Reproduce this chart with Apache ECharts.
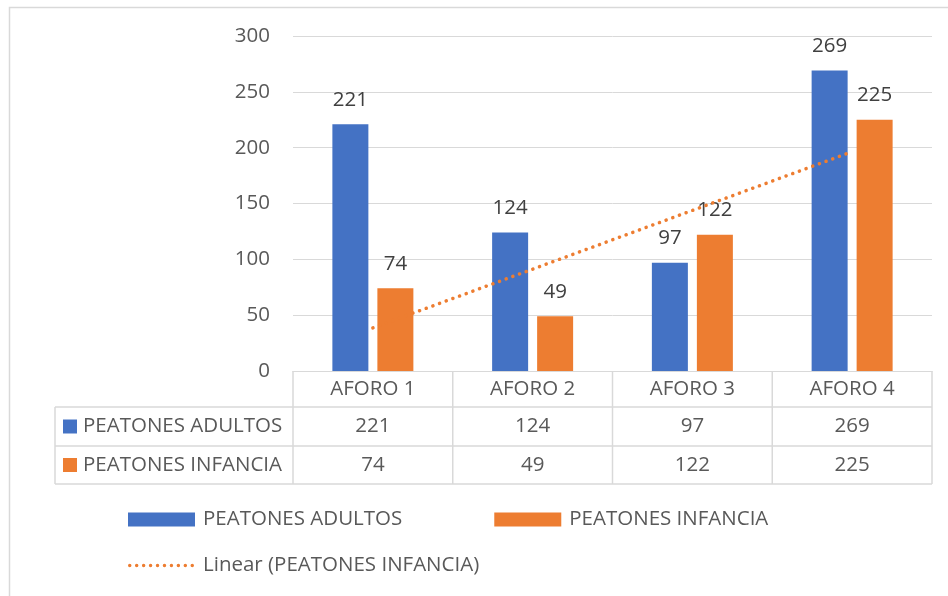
<!DOCTYPE html>
<html><head><meta charset="utf-8">
<script src="https://cdn.jsdelivr.net/npm/echarts@6/dist/echarts.min.js"></script>
<style>html,body{margin:0;padding:0;background:#fff}#c{width:948px;height:596px}</style>
</head><body><div id="c"></div>
<script>
const categories = ['AFORO 1', 'AFORO 2', 'AFORO 3', 'AFORO 4'];
const adultName = 'PEATONES ADULTOS';
const childName = 'PEATONES INFANCIA';
const trendName = 'Linear (PEATONES INFANCIA)';
const adultValues = [221, 124, 97, 269];
const childValues = [74, 49, 122, 225];
const trendValues = [38.6, 91.2, 143.8, 196.4];
const yTicks = { min: 0, max: 300, interval: 50 };

const BLUE = '#4472C4', ORANGE = '#ED7D31', TXT = '#595959', GRID = '#d9d9d9';
const FONT = 'Open Sans';
const FS = 20.5;

// dotted-line legend icon: a row of small circles
let dotPath = 'path://';
for (let i = 0; i < 10; i++) {
  const x = i * 7;
  dotPath += 'M' + x + ',1.75a1.75,1.75 0 1,0 3.5,0a1.75,1.75 0 1,0 -3.5,0z';
}

const chart = echarts.init(document.getElementById('c'), null, { renderer: 'canvas' });
const gridTop = 36, gridBottomY = 371, gridLeft = 293, gridRight = 932;

const option = {
  animation: false,
  textStyle: { fontFamily: FONT },
  grid: { left: gridLeft, right: 948 - gridRight, top: gridTop, bottom: 596 - gridBottomY },
  legend: [{
    data: [adultName, childName],
    icon: 'rect',
    left: 128, top: 509, padding: 0, itemWidth: 67, itemHeight: 14, itemGap: 92,
    textStyle: { color: TXT, fontSize: FS, fontFamily: FONT, padding: [0, 0, 0, 3] },
    selectedMode: false
  }, {
    data: [{ name: trendName, icon: dotPath }],
    left: 128, top: 555, padding: 0, itemWidth: 66, itemHeight: 14,
    itemStyle: { color: ORANGE },
    textStyle: { color: TXT, fontSize: FS, fontFamily: FONT, padding: [0, 0, 0, 4] },
    selectedMode: false
  }],
  xAxis: {
    type: 'category', data: categories,
    axisLine: { show: true, lineStyle: { color: GRID, width: 1 } },
    axisTick: { show: false },
    axisLabel: { color: TXT, fontSize: FS, fontFamily: FONT, margin: 8, lineHeight: 20, interval: 0 }
  },
  yAxis: {
    type: 'value', min: yTicks.min, max: yTicks.max, interval: yTicks.interval,
    axisLine: { show: false }, axisTick: { show: false },
    axisLabel: { color: TXT, fontSize: FS, fontFamily: FONT, margin: 23 },
    splitLine: { lineStyle: { color: GRID, width: 1 } }
  },
  series: [{
    name: adultName, type: 'bar', data: adultValues, barWidth: 36, barGap: '25%',
    itemStyle: { color: BLUE },
    label: { show: true, position: 'top', distance: 14, color: '#404040', fontSize: FS, fontFamily: FONT }
  }, {
    name: childName, type: 'bar', data: childValues, barWidth: 36,
    itemStyle: { color: ORANGE },
    label: { show: true, position: 'top', distance: 14, color: '#404040', fontSize: FS, fontFamily: FONT }
  }, {
    name: trendName, type: 'line', data: trendValues, symbol: 'none', z: 5,
    lineStyle: { color: ORANGE, width: 3.5, type: [0.1, 7], cap: 'round' },
    itemStyle: { color: ORANGE }
  }]
};
chart.setOption(option);

// Data table beneath the axis
function buildTable() {
  const centers = categories.map((c, i) => chart.convertToPixel({ xAxisIndex: 0 }, i));
  const band = centers[1] - centers[0];
  const bounds = [centers[0] - band / 2].concat(centers.map(c => c + band / 2));
  const yTop = gridBottomY, yR1 = 407, yR2 = 446, yBot = 484, xLeft = 55;
  const ls = { stroke: GRID, lineWidth: 1.5 };
  const font = FS + 'px "' + FONT + '"';
  const els = [];
  els.push({ type: 'rect', shape: { x: 9.5, y: 7.5, width: 1000, height: 1000 }, style: { fill: null, stroke: GRID, lineWidth: 1.5 }, silent: true });
  bounds.forEach(x => els.push({ type: 'line', shape: { x1: x, y1: yTop, x2: x, y2: yBot }, style: ls, silent: true }));
  els.push({ type: 'line', shape: { x1: xLeft, y1: yR1, x2: xLeft, y2: yBot }, style: ls, silent: true });
  [yR1, yR2, yBot].forEach(y => els.push({ type: 'line', shape: { x1: xLeft, y1: y, x2: bounds[bounds.length - 1], y2: y }, style: ls, silent: true }));
  const rows = [
    { name: adultName, color: BLUE, vals: adultValues, y: (yR1 + yR2) / 2 },
    { name: childName, color: ORANGE, vals: childValues, y: (yR2 + yBot) / 2 }
  ];
  rows.forEach(r => {
    els.push({ type: 'rect', shape: { x: 63, y: r.y - 7, width: 14, height: 14 }, style: { fill: r.color }, silent: true });
    els.push({ type: 'text', x: 83, y: r.y, style: { text: r.name, fill: TXT, font: font, verticalAlign: 'middle', align: 'left' }, silent: true });
    r.vals.forEach((v, i) => {
      els.push({ type: 'text', x: centers[i], y: r.y, style: { text: String(v), fill: TXT, font: font, verticalAlign: 'middle', align: 'center' }, silent: true });
    });
  });
  chart.setOption({ graphic: { elements: els } });
}
buildTable();
</script>
</body></html>
